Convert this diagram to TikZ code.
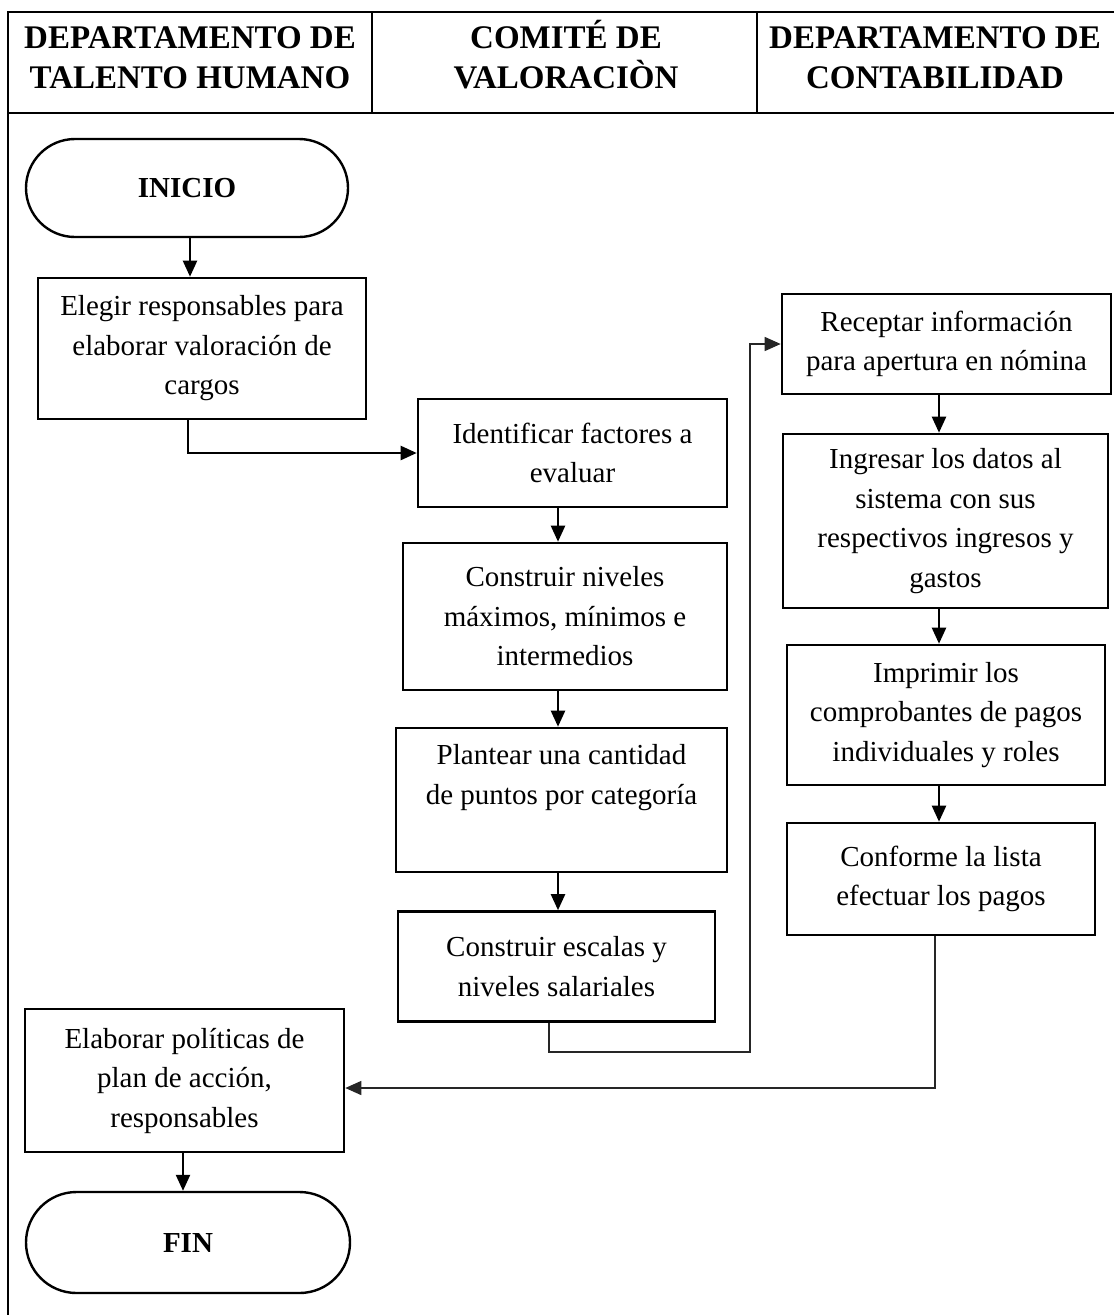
\documentclass[tikz,border=0pt]{standalone}
\usepackage{fontspec}
\setmainfont{Liberation Serif}
\usetikzlibrary{arrows.meta,shapes.misc}
\begin{document}
\begin{tikzpicture}[x=1pt,y=-1pt,
  every node/.style={font=\fontsize{29}{39.5}\selectfont, inner sep=0pt},
  procbox/.style={draw, line width=2.6pt, align=center},
  termbox/.style={draw, line width=2.4pt, rounded rectangle,
    font=\bfseries\fontsize{29}{39.5}\selectfont},
  headtext/.style={align=center, font=\bfseries\fontsize{33}{40}\selectfont},
  flow/.style={line width=2.3pt, -{Triangle[length=16pt,width=14pt]}},
  longflow/.style={line width=1.4pt, draw=black!85, -{Triangle[length=16pt,width=14pt]}},
  frameline/.style={line width=2.6pt},
  divline/.style={line width=1.6pt},
]
\path[use as bounding box] (0,0) rectangle (1114,1315);

% lane frame and header row
\draw[frameline] (8,1315) -- (8,12) -- (1114,12);
\draw[frameline] (8,113) -- (1114,113);
\draw[divline] (372,12) -- (372,113);
\draw[divline] (757,12) -- (757,113);

\node[headtext] (h1) at (190,58) {DEPARTAMENTO DE\\TALENTO HUMANO};
\node[headtext] (h2) at (566,55) {COMITÉ DE\\VALORACIÒN};
\node[headtext] (h3) at (935,58) {DEPARTAMENTO DE\\CONTABILIDAD};

% process steps
\node[termbox, minimum width=322, minimum height=98] (inicio) at (187,188) {INICIO};
\node[procbox, minimum width=328, minimum height=141] (elegir) at (202,348.5)
  {Elegir responsables para\\elaborar valoración de\\cargos};
\node[procbox, minimum width=309, minimum height=108] (identificar) at (572.5,453)
  {Identificar factores a\\evaluar};
\node[procbox, minimum width=324, minimum height=147] (niveles) at (565,616.5)
  {Construir niveles\\máximos, mínimos e\\intermedios};
\node[procbox, minimum width=331, minimum height=144] (plantear) at (561.5,800)
  {Plantear una cantidad\\de puntos por categoría\\\strut};
\node[procbox, minimum width=317, minimum height=110] (escalas) at (556.5,966.5)
  {Construir escalas y\\niveles salariales};
\node[procbox, minimum width=329, minimum height=100] (receptar) at (946.5,344)
  {Receptar información\\para apertura en nómina};
\node[procbox, minimum width=325, minimum height=174] (ingresar) at (945.5,521)
  {Ingresar los datos al\\sistema con sus\\respectivos ingresos y\\gastos};
\node[procbox, minimum width=318, minimum height=140] (imprimir) at (946,715)
  {Imprimir los\\comprobantes de pagos\\individuales y roles};
\node[procbox, minimum width=308, minimum height=112] (conforme) at (941,879)
  {Conforme la lista\\efectuar los pagos};
\node[procbox, minimum width=319, minimum height=143] (elaborar) at (184.5,1080.5)
  {Elaborar políticas de\\plan de acción,\\responsables};
\node[termbox, minimum width=324, minimum height=101] (fin) at (188,1242.5) {FIN};

% connector columns
\coordinate (colA) at (190,0);
\coordinate (colB) at (188,0);
\coordinate (colC) at (558,0);
\coordinate (colD) at (549,0);
\coordinate (colE) at (939,0);
\coordinate (colF) at (935,0);
\coordinate (colG) at (183,0);
\coordinate (bendA) at (750,1052);

% connectors
\draw[flow] (inicio.south -| colA) -- (elegir.north -| colA);
\draw[flow] (elegir.south -| colB) |- (identificar.west);
\draw[flow] (identificar.south -| colC) -- (niveles.north -| colC);
\draw[flow] (niveles.south -| colC) -- (plantear.north -| colC);
\draw[flow] (plantear.south -| colC) -- (escalas.north -| colC);
\draw[longflow] (escalas.south -| colD) |- (bendA) |- (receptar.west);
\draw[flow] (receptar.south -| colE) -- (ingresar.north -| colE);
\draw[flow] (ingresar.south -| colE) -- (imprimir.north -| colE);
\draw[flow] (imprimir.south -| colE) -- (conforme.north -| colE);
\draw[longflow] (conforme.south -| colF) |- ([yshift=-7.5pt]elaborar.east);
\draw[flow] (elaborar.south -| colG) -- (fin.north -| colG);
\end{tikzpicture}
\end{document}
